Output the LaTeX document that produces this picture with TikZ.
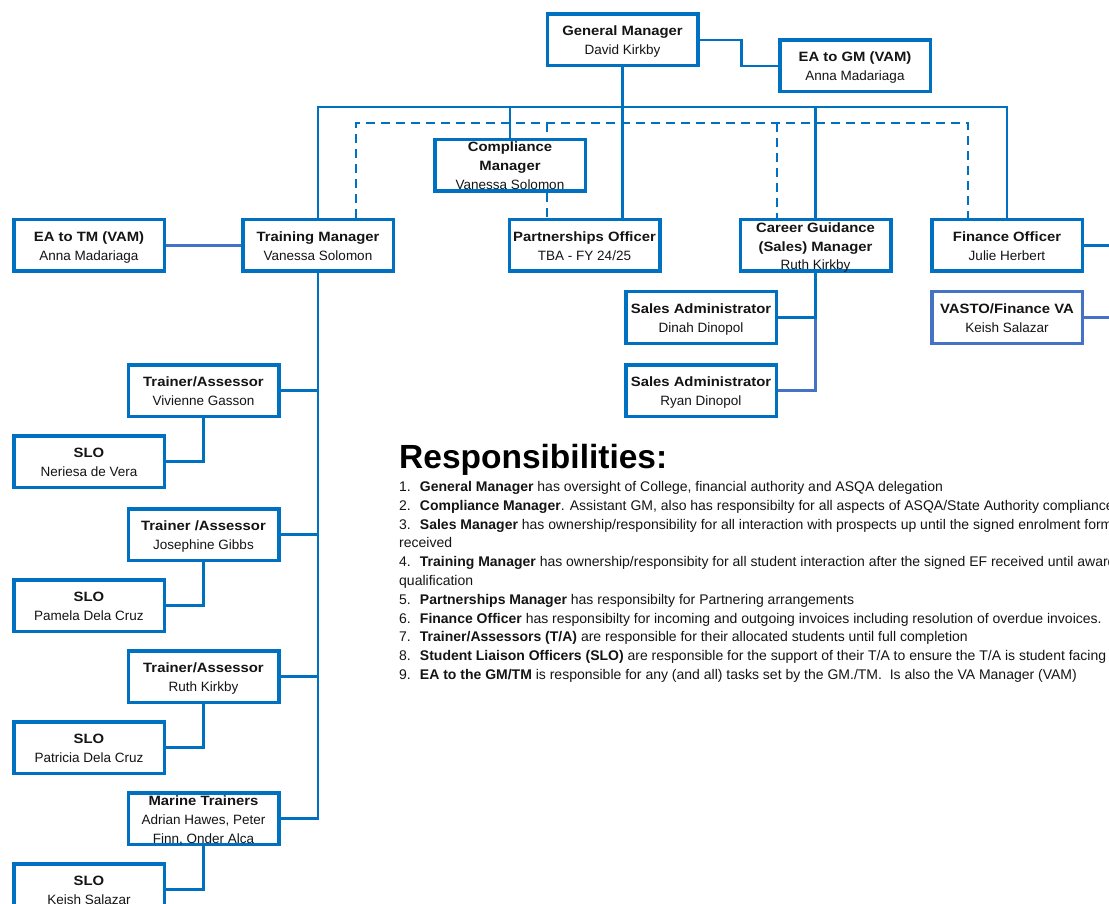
\documentclass[tikz,border=0pt]{standalone}
\usepackage{fontspec}
\setmainfont{Liberation Sans}
\newfontfamily\roleFont{Liberation Sans}[BoldFeatures={FakeStretch=1.1}]
\usepackage{tikz}
\usetikzlibrary{positioning, backgrounds, calc}
\definecolor{orgBlue}{RGB}{0,112,192}
\definecolor{vaBlue}{RGB}{68,114,196}
\definecolor{darkText}{RGB}{20,20,20}
% title and name of a box, with struts at top and bottom
\newcommand{\roleText}[2]{\rule{0pt}{12pt}#1\\\smash{#2}\rule[-1pt]{0pt}{1pt}}
\tikzset{
    role/.style={rectangle, draw=#1, line width=3.5pt, fill=white, align=center,
                 minimum width=150.5pt, minimum height=51.5pt, inner sep=0pt,
                 font=\roleFont\fontsize{13.5}{19}\selectfont, text=darkText},
    role/.default=orgBlue,
    link/.style={line width=2.4pt, draw=#1},
    link/.default=orgBlue,
    dlink/.style={line width=2.4pt, draw=orgBlue, dash pattern=on 9pt off 6pt},
    resp/.style={font=\fontsize{14}{18}\selectfont, text=darkText, inner sep=0pt, anchor=base west}
}

\begin{document}
\begin{tikzpicture}[x=1pt, y=-1pt]
    \useasboundingbox (0,0) rectangle (1109,904);
    \clip (0,0) rectangle (1109,904);
    % top of the chart
    \node[role] (gm) at (622.5,40) {\roleText{\textbf{General Manager}}{David Kirkby}};
    \node[role] (eagm) at (855,66) {\roleText{\textbf{EA to GM (VAM)}}{Anna Madariaga}};
    \node[role] (cm) at (510,165.5) {\roleText{\textbf{Compliance}\\\textbf{Manager}}{Vanessa Solomon}};
    \node[role] (eatm) at (89,245.5) {\roleText{\textbf{EA to TM (VAM)}}{Anna Madariaga}};
    \node[role] (tm) at (318,245.5) {\roleText{\textbf{Training Manager}}{Vanessa Solomon}};
    \node[role] (po) at (584.5,245.5) {\roleText{\textbf{Partnerships Officer}}{TBA - FY 24/25}};
    \node[role] (cg) at (815.5,245.5) {\roleText{\textbf{Career Guidance}\\\textbf{(Sales) Manager}}{Ruth Kirkby}};
    \node[role] (fo) at (1007,245.5) {\roleText{\textbf{Finance Officer}}{Julie Herbert}};
    \node[role] (sa1) at (701,317.5) {\roleText{\textbf{Sales Administrator}}{Dinah Dinopol}};
    \node[role] (sa2) at (701,390.5) {\roleText{\textbf{Sales Administrator}}{Ryan Dinopol}};
    \node[role=vaBlue] (vasto) at (1007,317.5) {\roleText{\textbf{VASTO/Finance VA}}{Keish Salazar}};
    \coordinate (offR) at (1120,0);
    \coordinate (bus) at (0,107);
    \coordinate (dbus) at (0,123);

    % training team
    \foreach \nm/\ttl/\who/\ty/\slo/\sy in {
        1/{\textbf{Trainer/Assessor}}/{Vivienne Gasson}/390.5/{Neriesa de Vera}/461.5,
        2/{\textbf{Trainer /Assessor}}/{Josephine Gibbs}/534.5/{Pamela Dela Cruz}/605.5,
        3/{\textbf{Trainer/Assessor}}/{Ruth Kirkby}/676.5/{Patricia Dela Cruz}/747.5,
        4/{\textbf{Marine Trainers}\\Adrian Hawes, Peter}/{Finn, Onder Alca}/818.5/{Keish Salazar}/889.5} {
        \node[role] (ta\nm) at (203.5,\ty) {\roleText{\ttl}{\who}};
        \node[role] (slo\nm) at (89,\sy) {\roleText{\textbf{SLO}}{\slo}};
    }

    \begin{scope}[on background layer]
        \draw[link] (gm.east) -- ++(42,0) |- (eagm.west);
        \draw[link] (gm.south) -- (gm.south |- po.north);
        \draw[link] (tm.north) -- (tm.north |- bus) -- (fo.north |- bus) -- (fo.north);
        \draw[link] (cm.north |- bus) -- (cm.north);
        \draw[link] (cg.north |- bus) -- (cg.north);
        \draw[dlink] ([xshift=38pt]tm.north) -- ([xshift=38pt]tm.north |- dbus)
            -- ([xshift=-39pt]fo.north |- dbus) -- ([xshift=-39pt]fo.north);
        \draw[dlink] ([xshift=37pt]cm.north |- dbus) -- ([xshift=37pt]cm.north);
        \draw[dlink] ([xshift=37pt]cm.south) -- ([xshift=37pt]cm.south |- po.north);
        \draw[dlink] ([xshift=-38.5pt]cg.north |- dbus) -- ([xshift=-38.5pt]cg.north);
        \draw[link=vaBlue] (eatm.east) -- (tm.west);
        \draw[link=vaBlue] (cg.south) |- (sa2.east);
        \draw[link] (cg.south) |- (sa1.east);
        \draw[link] (fo.east) -- (fo.east -| offR);
        \draw[link=vaBlue] (vasto.east) -- (vasto.east -| offR);
        \foreach \i in {1,...,4} {
            \draw[link] (ta\i.east) -| (tm.south);
            \draw[link] (ta\i.south) |- (slo\i.east);
        }
    \end{scope}

    % responsibilities
    \node[anchor=base west, inner sep=0pt, text=black,
          font=\fontsize{33.5}{40}\selectfont\bfseries] (head) at (399,468) {Responsibilities:};
    \foreach \txt [count=\i from 0] in {
        {1.~ \textbf{General Manager} has oversight of College, financial authority and ASQA delegation},
        {2.~ \textbf{Compliance Manager}. Assistant GM, also has responsibilty for all aspects of ASQA/State Authority compliance},
        {3.~ \textbf{Sales Manager} has ownership/responsibility for all interaction with prospects up until the signed enrolment form},
        {received},
        {4.~ \textbf{Training Manager} has ownership/responsibity for all student interaction after the signed EF received until award},
        {qualification},
        {5.~ \textbf{Partnerships Manager} has responsibilty for Partnering arrangements},
        {6.~ \textbf{Finance Officer} has responsibilty for incoming and outgoing invoices including resolution of overdue invoices.},
        {7.~ \textbf{Trainer/Assessors (T/A)} are responsible for their allocated students until full completion},
        {8.~ \textbf{Student Liaison Officers (SLO)} are responsible for the support of their T/A to ensure the T/A is student facing},
        {9.~ \textbf{EA to the GM/TM} is responsible for any (and all) tasks set by the GM./TM.~ Is also the VA Manager (VAM)}} {
        \node[resp] (r\i) at (399,491.5+18.8*\i) {\txt};
    }
\end{tikzpicture}
\end{document}
